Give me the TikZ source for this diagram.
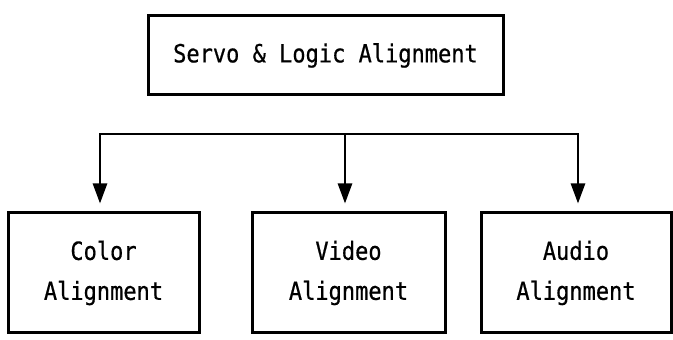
\documentclass[tikz,border=0pt]{standalone}
\usepackage{fontspec}
\newfontfamily\twfont[FakeStretch=0.88,FakeBold=0.6]{DejaVu Sans Mono}
\usetikzlibrary{arrows.meta}
\begin{document}
\begin{tikzpicture}[x=1pt,y=1pt,
  box/.style={draw, line width=3pt, inner sep=0pt, align=center,
    font=\twfont\fontsize{25}{40}\selectfont},
  wire/.style={line width=2.6pt},
  arr/.style={wire, -{Triangle[length=20pt,width=14pt]}, shorten >=8pt}]
\useasboundingbox (0,0) rectangle (673,340);
\fill[white] (0,0) rectangle (673,340);
\node[box, minimum width=355pt, minimum height=79pt] (top) at (325.5,284.5) {Servo \& Logic Alignment};
\node[box, minimum width=191pt, minimum height=120pt] (color) at (103.5,67) {Color\\Alignment};
\node[box, minimum width=193pt, minimum height=120pt] (video) at (348.5,67) {Video\\Alignment};
\node[box, minimum width=190pt, minimum height=120pt] (audio) at (576,67) {Audio\\Alignment};
\coordinate (bl) at (100,206);
\coordinate (bm) at (345,206);
\coordinate (br) at (578,206);
\draw[wire, line cap=rect] (bl) -- (br);
\draw[arr] (bl) -- (bl |- color.north);
\draw[arr] (bm) -- (bm |- video.north);
\draw[arr] (br) -- (br |- audio.north);
\end{tikzpicture}
\end{document}
